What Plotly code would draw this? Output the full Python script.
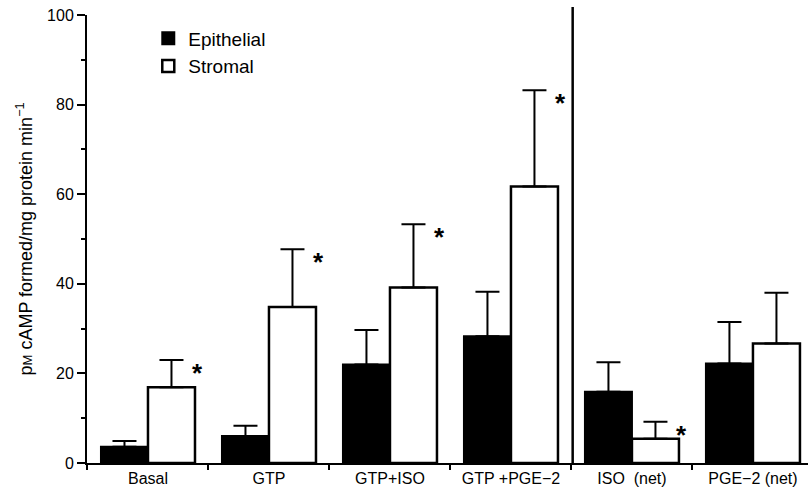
import plotly.graph_objects as go

categories = ["Basal", "GTP", "GTP+ISO", "GTP +PGE\u22122", "ISO  (net)", "PGE\u22122 (net)"]
epithelial = [3.6, 6.0, 22.0, 28.3, 15.9, 22.2]
epithelial_err_top = [4.9, 8.3, 29.7, 38.2, 22.5, 31.5]
stromal = [16.9, 34.8, 39.2, 61.7, 5.4, 26.7]
stromal_err_top = [23.0, 47.7, 53.3, 83.2, 9.2, 38.0]
significant = [True, True, True, True, True, False]
y_ticks = [0, 20, 40, 60, 80, 100]

x = list(range(len(categories)))
xmin, xmax = -0.504, 5.455
sep_x = 3.51

FONT = "Liberation Sans, Arial, sans-serif"

fig = go.Figure()
fig.add_trace(go.Bar(
    x=x, y=epithelial, name="Epithelial",
    marker=dict(color="black", line=dict(color="black", width=2)),
    error_y=dict(type="data", symmetric=False,
                 array=[t - v for t, v in zip(epithelial_err_top, epithelial)],
                 arrayminus=[0] * len(epithelial),
                 color="black", thickness=2, width=12),
))
fig.add_trace(go.Bar(
    x=x, y=stromal, name="Stromal",
    marker=dict(color="white", line=dict(color="black", width=2.5)),
    error_y=dict(type="data", symmetric=False,
                 array=[t - v for t, v in zip(stromal_err_top, stromal)],
                 arrayminus=[0] * len(stromal),
                 color="black", thickness=2, width=12),
))

for i, (sig, top) in enumerate(zip(significant, stromal_err_top)):
    if sig:
        fig.add_annotation(x=i + 0.41, y=top, text="<b>*</b>", showarrow=False,
                           xanchor="center", yanchor="top", yshift=4,
                           font=dict(family=FONT, size=26, color="black"))

fig.add_shape(type="line", xref="paper", yref="paper",
              x0=(sep_x - xmin) / (xmax - xmin), x1=(sep_x - xmin) / (xmax - xmin),
              y0=-0.004, y1=1.018, line=dict(color="black", width=2.5))

fig.update_layout(
    width=808, height=498,
    margin=dict(l=87, r=0, t=15, b=35),
    paper_bgcolor="white", plot_bgcolor="white",
    barmode="group", bargap=0.223, bargroupgap=0,
    font=dict(family=FONT, size=16, color="black"),
    showlegend=True,
    legend=dict(x=0.085, y=0.99, xanchor="left", yanchor="top",
                font=dict(family=FONT, size=19, color="black"),
                bgcolor="rgba(0,0,0,0)", tracegroupgap=0),
    xaxis=dict(range=[xmin, xmax], tickmode="array", tickvals=x, ticktext=categories,
               ticks="", showline=True, linecolor="black", linewidth=2,
               showgrid=False, zeroline=False,
               tickfont=dict(family=FONT, size=16, color="black"),
               minor=dict(tick0=0.5, dtick=1, ticks="outside", ticklen=5,
                          tickwidth=2, tickcolor="black")),
    yaxis=dict(range=[0, 100], tickmode="array", tickvals=y_ticks,
               ticks="outside", ticklen=8, tickwidth=2, tickcolor="black",
               showline=True, linecolor="black", linewidth=2,
               showgrid=False, zeroline=False,
               tickfont=dict(family=FONT, size=16, color="black"),
               minor=dict(dtick=10, ticks="outside", ticklen=4, tickwidth=1.5,
                          tickcolor="black"),
               title=dict(text="p<span style='font-size:13px'>M</span> cAMP formed/mg protein min<sup>\u22121</sup>",
                          font=dict(family=FONT, size=18, color="black"), standoff=10)),
)

fig.write_html("out.html")
